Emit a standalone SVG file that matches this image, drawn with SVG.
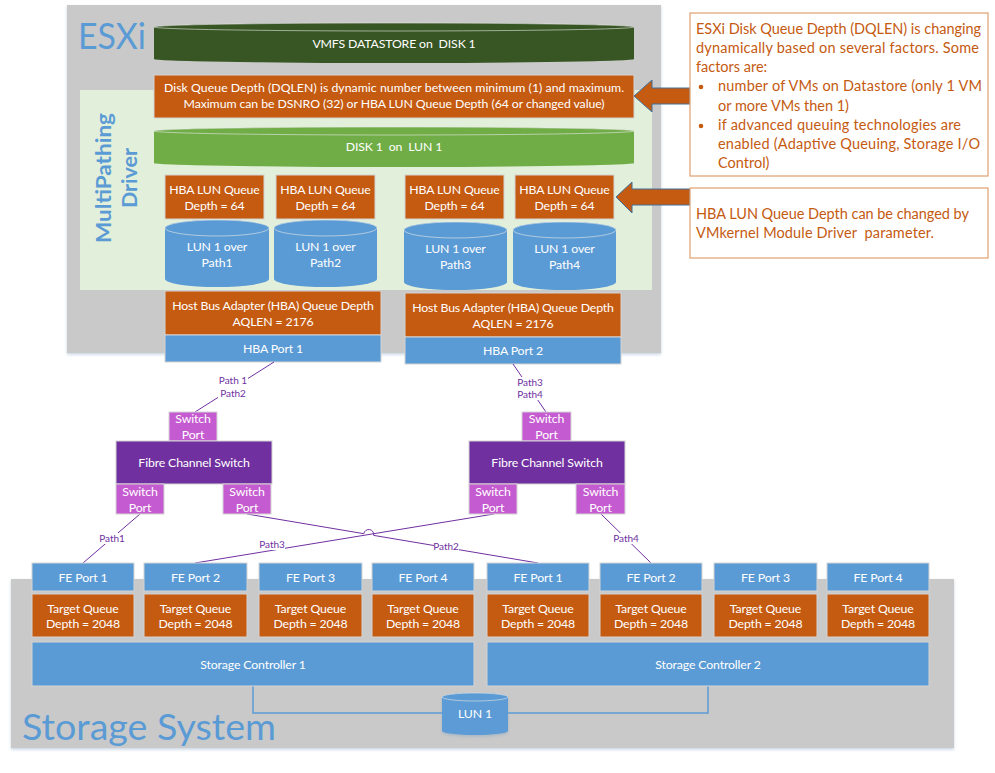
<svg xmlns="http://www.w3.org/2000/svg" width="995" height="773" viewBox="0 0 995 773" xml:space="preserve">
<defs>
<filter id="sh" x="-5%" y="-5%" width="110%" height="115%">
<feDropShadow dx="0" dy="1.5" stdDeviation="1.5" flood-color="#7f9fc0" flood-opacity="0.45"/>
</filter>
</defs>
<style>
.o{fill:#C55A11;stroke:#d4d4d4;stroke-width:1}
.b{fill:#5B9BD5;stroke:#d4d4d4;stroke-width:1}
.sp{fill:#C55BD0;stroke:#d4d4d4;stroke-width:1}
.fc{fill:#7030A0;stroke:#d4d4d4;stroke-width:1}
.t{font-family:Lato,"Open Sans",sans-serif;font-size:12.3px;letter-spacing:-0.15px;fill:#ffffff;text-anchor:middle;white-space:pre}
.pl{font-family:Lato,"Open Sans",sans-serif;font-size:10px;fill:#7030A0;text-anchor:middle}
.c{font-family:Lato,"Open Sans",sans-serif;font-size:14.5px;fill:#C55A11;white-space:pre}
.big{font-family:Lato,"Open Sans",sans-serif;fill:#5B9BD5}
.cn{fill:none;stroke:#7030A0;stroke-width:1}
.lb{fill:#ffffff}
.arr{fill:#C55A11;stroke:#41719C;stroke-width:1}
.cyl{stroke:#e8e8e8;stroke-opacity:0.6;stroke-width:1}
</style>

<!-- ESXi host -->
<g id="esxi">
<rect x="67" y="5" width="594" height="348" fill="#C9C9C9" filter="url(#sh)"/>
<text class="big" x="78" y="49" font-size="37" textLength="68" lengthAdjust="spacingAndGlyphs">ESXi</text>
</g>

<g id="multipathing">
<rect x="80" y="90" width="572" height="200" fill="#E2EFDA"/>
<text class="big" font-weight="bold" font-size="21" text-anchor="middle" transform="translate(111 178) rotate(-90)" textLength="130" lengthAdjust="spacingAndGlyphs">MultiPathing</text>
<text class="big" font-weight="bold" font-size="21" text-anchor="middle" transform="translate(137 178) rotate(-90)" textLength="60" lengthAdjust="spacingAndGlyphs">Driver</text>
</g>

<g id="vmfs-datastore">
<path d="M154,27 L154,59 A240,4 0 0 0 634,59 L634,27 A240,4 0 0 0 154,27 Z" fill="#375623"/>
<ellipse cx="394" cy="27" rx="240" ry="4" fill="#375623" class="cyl"/>
<text class="t" x="394" y="48">VMFS DATASTORE on  DISK 1</text>
</g>

<g id="dqlen">
<rect class="o" x="154" y="75" width="480" height="43"/>
<text class="t" x="394" y="92" textLength="460">Disk Queue Depth (DQLEN) is dynamic number between minimum (1) and maximum.</text>
<text class="t" x="394" y="108" textLength="421">Maximum can be DSNRO (32) or HBA LUN Queue Depth (64 or changed value)</text>
</g>

<g id="disk1">
<path d="M154,131 L154,163 A240,4 0 0 0 634,163 L634,131 A240,4 0 0 0 154,131 Z" fill="#70AD47"/>
<ellipse cx="394" cy="131" rx="240" ry="4" fill="#70AD47" class="cyl"/>
<text class="t" x="394" y="151">DISK 1  on  LUN 1</text>
</g>

<g id="hba-lun-queue-1"><rect class="o" x="165" y="175" width="99" height="44"/><text class="t" x="214.5" y="193.5">HBA LUN Queue</text><text class="t" x="214.5" y="209.5">Depth = 64</text></g>
<g id="hba-lun-queue-2"><rect class="o" x="276" y="175" width="99" height="44"/><text class="t" x="325.5" y="193.5">HBA LUN Queue</text><text class="t" x="325.5" y="209.5">Depth = 64</text></g>
<g id="hba-lun-queue-3"><rect class="o" x="405" y="175" width="99" height="44"/><text class="t" x="454.5" y="193.5">HBA LUN Queue</text><text class="t" x="454.5" y="209.5">Depth = 64</text></g>
<g id="hba-lun-queue-4"><rect class="o" x="515" y="175" width="99" height="44"/><text class="t" x="564.5" y="193.5">HBA LUN Queue</text><text class="t" x="564.5" y="209.5">Depth = 64</text></g>

<g id="lun-path1">
<path d="M165,228 L165,279 A52,8 0 0 0 269,279 L269,228 A52,8 0 0 0 165,228 Z" fill="#5B9BD5"/>
<ellipse cx="217" cy="228" rx="52" ry="8" fill="#5B9BD5" class="cyl"/>
<text class="t" x="217" y="250.5">LUN 1 over</text><text class="t" x="217" y="266.5">Path1</text>
</g>
<g id="lun-path2">
<path d="M274,228 L274,279 A51.5,8 0 0 0 377,279 L377,228 A51.5,8 0 0 0 274,228 Z" fill="#5B9BD5"/>
<ellipse cx="325.5" cy="228" rx="51.5" ry="8" fill="#5B9BD5" class="cyl"/>
<text class="t" x="325.5" y="250.5">LUN 1 over</text><text class="t" x="325.5" y="266.5">Path2</text>
</g>
<g id="lun-path3">
<path d="M404,230 L404,282 A51.5,8 0 0 0 507,282 L507,230 A51.5,8 0 0 0 404,230 Z" fill="#5B9BD5"/>
<ellipse cx="455.5" cy="230" rx="51.5" ry="8" fill="#5B9BD5" class="cyl"/>
<text class="t" x="455.5" y="252.5">LUN 1 over</text><text class="t" x="455.5" y="268.5">Path3</text>
</g>
<g id="lun-path4">
<path d="M513,230 L513,282 A51.5,8 0 0 0 616,282 L616,230 A51.5,8 0 0 0 513,230 Z" fill="#5B9BD5"/>
<ellipse cx="564.5" cy="230" rx="51.5" ry="8" fill="#5B9BD5" class="cyl"/>
<text class="t" x="564.5" y="252.5">LUN 1 over</text><text class="t" x="564.5" y="268.5">Path4</text>
</g>

<g id="hba-queue-1"><rect class="o" x="165" y="291" width="216" height="44"/><text class="t" x="273" y="309.5">Host Bus Adapter (HBA) Queue Depth</text><text class="t" x="273" y="325.5">AQLEN = 2176</text></g>
<g id="hba-port-1"><rect class="b" x="165" y="335" width="216" height="27"/><text class="t" x="273" y="352.5">HBA Port 1</text></g>
<g id="hba-queue-2"><rect class="o" x="405" y="293" width="216" height="44"/><text class="t" x="513" y="311.5">Host Bus Adapter (HBA) Queue Depth</text><text class="t" x="513" y="327.5">AQLEN = 2176</text></g>
<g id="hba-port-2"><rect class="b" x="405" y="337" width="216" height="27"/><text class="t" x="513" y="354.5">HBA Port 2</text></g>

<!-- callouts -->
<g id="arrow-dqlen"><polygon class="arr" points="634,96 652,80 652,88 690,88 690,104 652,104 652,112"/></g>
<g id="arrow-hba"><polygon class="arr" points="616,197 632,182 632,189 690,189 690,205 632,205 632,213"/></g>

<g id="note-dqlen">
<rect x="690" y="13" width="298" height="163" fill="#ffffff" stroke="#E0A070" stroke-width="1.2"/>
<text class="c" x="696" y="34" textLength="285">ESXi Disk Queue Depth (DQLEN) is changing</text>
<text class="c" x="696" y="53" textLength="283">dynamically based on several factors. Some</text>
<text class="c" x="696" y="72">factors are:</text>
<circle cx="701" cy="87" r="2.3" fill="#C55A11"/>
<text class="c" x="718" y="91" textLength="264">number of VMs on Datastore (only 1 VM</text>
<text class="c" x="718" y="111">or more VMs then 1)</text>
<circle cx="701" cy="126" r="2.3" fill="#C55A11"/>
<text class="c" x="718" y="130" textLength="243">if advanced queuing technologies are</text>
<text class="c" x="718" y="149" textLength="262">enabled (Adaptive Queuing, Storage I/O</text>
<text class="c" x="718" y="168">Control)</text>
</g>
<g id="note-hba">
<rect x="690" y="188" width="298" height="70" fill="#ffffff" stroke="#E0A070" stroke-width="1.2"/>
<text class="c" x="696" y="219" textLength="273">HBA LUN Queue Depth can be changed by</text>
<text class="c" x="696" y="238" textLength="238">VMkernel Module Driver  parameter.</text>
</g>

<!-- storage system -->
<g id="storage-system">
<rect x="11" y="579" width="943" height="169" fill="#C9C9C9" filter="url(#sh)"/>
<text class="big" x="22" y="740" font-size="37" textLength="254" lengthAdjust="spacingAndGlyphs">Storage System</text>
</g>

<!-- connectors -->
<g id="connectors">
<path class="cn" d="M274,362 L195,412"/>
<path class="cn" d="M513,364 L546,412"/>
<path class="cn" d="M140,514 L83,563"/>
<path class="cn" d="M601,514 L651,563"/>
<path class="cn" d="M247,514 L363.8,533.7 A5,5 0 0 1 373.7,535.4 L538,563"/>
<path class="cn" d="M494,514 L195,563"/>
<path d="M253,686 V713 H442" fill="none" stroke="#5B9BD5" stroke-width="1.5"/>
<path d="M708,686 V713 H508" fill="none" stroke="#5B9BD5" stroke-width="1.5"/>
<rect class="lb" x="218" y="375" width="30" height="23"/>
<text class="pl" x="233" y="384">Path 1</text><text class="pl" x="233" y="397">Path2</text>
<rect class="lb" x="517" y="377" width="27" height="23"/>
<text class="pl" x="530" y="386">Path3</text><text class="pl" x="530" y="398">Path4</text>
<rect class="lb" x="100" y="533" width="25" height="11"/><text class="pl" x="112" y="542">Path1</text>
<rect class="lb" x="613" y="533" width="26" height="11"/><text class="pl" x="626" y="542">Path4</text>
<rect class="lb" x="434" y="541" width="25" height="11"/><text class="pl" x="446" y="550">Path2</text>
<rect class="lb" x="260" y="539" width="25" height="11"/><text class="pl" x="272" y="548">Path3</text>
</g>

<!-- switches -->
<g id="switch-port-l-top"><rect class="sp" x="169" y="412" width="48" height="29"/><text class="t" x="193" y="423">Switch</text><text class="t" x="193" y="439">Port</text></g>
<g id="fc-switch-left"><rect class="fc" x="116" y="441" width="156" height="43"/><text class="t" x="194" y="467">Fibre Channel Switch</text></g>
<g id="switch-port-l-bl"><rect class="sp" x="116" y="484" width="48" height="30"/><text class="t" x="140" y="496">Switch</text><text class="t" x="140" y="512">Port</text></g>
<g id="switch-port-l-br"><rect class="sp" x="223" y="484" width="48" height="30"/><text class="t" x="247" y="496">Switch</text><text class="t" x="247" y="512">Port</text></g>
<g id="switch-port-r-top"><rect class="sp" x="522" y="412" width="49" height="29"/><text class="t" x="546.5" y="423">Switch</text><text class="t" x="546.5" y="439">Port</text></g>
<g id="fc-switch-right"><rect class="fc" x="469" y="441" width="156" height="43"/><text class="t" x="547" y="467">Fibre Channel Switch</text></g>
<g id="switch-port-r-bl"><rect class="sp" x="469" y="484" width="48" height="30"/><text class="t" x="493" y="496">Switch</text><text class="t" x="493" y="512">Port</text></g>
<g id="switch-port-r-br"><rect class="sp" x="576" y="484" width="49" height="30"/><text class="t" x="600.5" y="496">Switch</text><text class="t" x="600.5" y="512">Port</text></g>

<!-- storage controller 1 -->
<g id="fe-port-1a"><rect class="b" x="32" y="563" width="102" height="28"/><text class="t" x="83" y="581.5">FE Port 1</text></g>
<g id="fe-port-2a"><rect class="b" x="144" y="563" width="103" height="28"/><text class="t" x="195.5" y="581.5">FE Port 2</text></g>
<g id="fe-port-3a"><rect class="b" x="259" y="563" width="103" height="28"/><text class="t" x="310.5" y="581.5">FE Port 3</text></g>
<g id="fe-port-4a"><rect class="b" x="372" y="563" width="102" height="28"/><text class="t" x="423" y="581.5">FE Port 4</text></g>
<g id="tq-1a"><rect class="o" x="32" y="594" width="102" height="43"/><text class="t" x="83" y="612.5">Target Queue</text><text class="t" x="83" y="627.5">Depth = 2048</text></g>
<g id="tq-2a"><rect class="o" x="144" y="594" width="103" height="43"/><text class="t" x="195.5" y="612.5">Target Queue</text><text class="t" x="195.5" y="627.5">Depth = 2048</text></g>
<g id="tq-3a"><rect class="o" x="259" y="594" width="103" height="43"/><text class="t" x="310.5" y="612.5">Target Queue</text><text class="t" x="310.5" y="627.5">Depth = 2048</text></g>
<g id="tq-4a"><rect class="o" x="372" y="594" width="102" height="43"/><text class="t" x="423" y="612.5">Target Queue</text><text class="t" x="423" y="627.5">Depth = 2048</text></g>
<g id="storage-controller-1"><rect class="b" x="32" y="642" width="442" height="44"/><text class="t" x="253" y="668.5">Storage Controller 1</text></g>

<!-- storage controller 2 -->
<g id="fe-port-1b"><rect class="b" x="487" y="563" width="102" height="28"/><text class="t" x="538" y="581.5">FE Port 1</text></g>
<g id="fe-port-2b"><rect class="b" x="600" y="563" width="102" height="28"/><text class="t" x="651" y="581.5">FE Port 2</text></g>
<g id="fe-port-3b"><rect class="b" x="714" y="563" width="103" height="28"/><text class="t" x="765.5" y="581.5">FE Port 3</text></g>
<g id="fe-port-4b"><rect class="b" x="827" y="563" width="102" height="28"/><text class="t" x="878" y="581.5">FE Port 4</text></g>
<g id="tq-1b"><rect class="o" x="487" y="594" width="102" height="43"/><text class="t" x="538" y="612.5">Target Queue</text><text class="t" x="538" y="627.5">Depth = 2048</text></g>
<g id="tq-2b"><rect class="o" x="600" y="594" width="102" height="43"/><text class="t" x="651" y="612.5">Target Queue</text><text class="t" x="651" y="627.5">Depth = 2048</text></g>
<g id="tq-3b"><rect class="o" x="714" y="594" width="103" height="43"/><text class="t" x="765.5" y="612.5">Target Queue</text><text class="t" x="765.5" y="627.5">Depth = 2048</text></g>
<g id="tq-4b"><rect class="o" x="827" y="594" width="102" height="43"/><text class="t" x="878" y="612.5">Target Queue</text><text class="t" x="878" y="627.5">Depth = 2048</text></g>
<g id="storage-controller-2"><rect class="b" x="487" y="642" width="442" height="44"/><text class="t" x="708" y="668.5">Storage Controller 2</text></g>

<g id="lun1">
<path d="M442,697 L442,731 A33,4 0 0 0 508,731 L508,697 A33,4 0 0 0 442,697 Z" fill="#5B9BD5" filter="url(#sh)"/>
<ellipse cx="475" cy="697" rx="33" ry="4" fill="#5B9BD5" class="cyl"/>
<text class="t" x="475" y="717.5">LUN 1</text>
</g>
</svg>
